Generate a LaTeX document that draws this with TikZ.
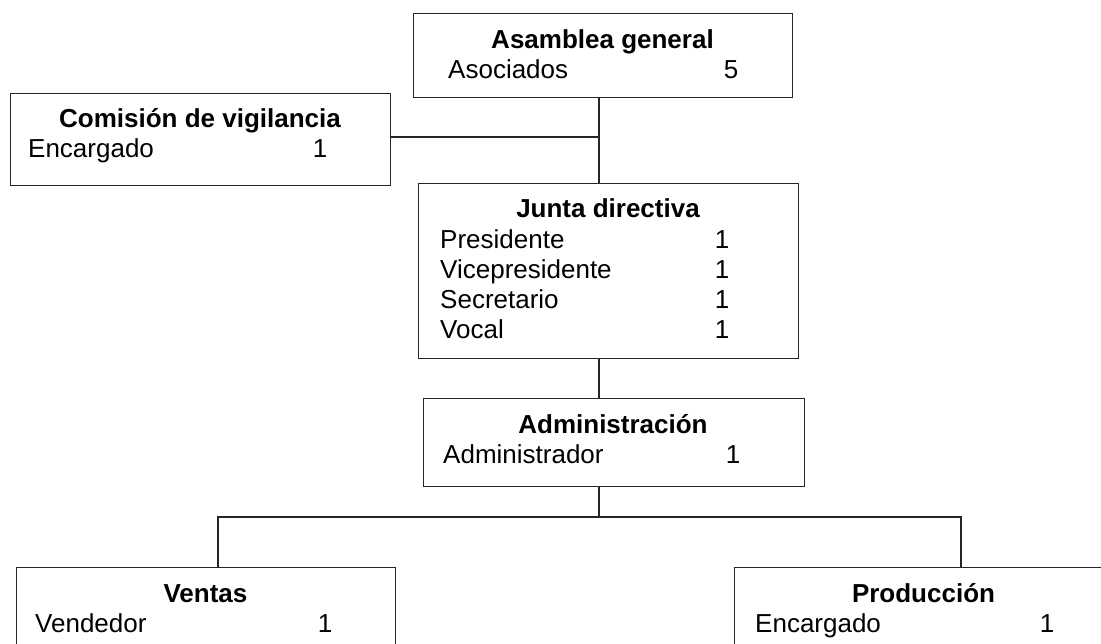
\documentclass[tikz,border=0pt]{standalone}
\usepackage{fontspec}
\setmainfont{Liberation Sans}
\begin{document}
\begin{tikzpicture}[x=1pt,y=-1pt,
  box/.style={draw=black!85, line width=1.4pt, inner sep=0pt, anchor=north west},
  ttl/.style={font=\fontsize{26}{30}\selectfont\bfseries, anchor=base, inner sep=0pt},
  itm/.style={font=\fontsize{26}{30}\selectfont, anchor=base west, inner sep=0pt},
  num/.style={font=\fontsize{26}{30}\selectfont, anchor=base, inner sep=0pt},
  conn/.style={draw=black!85, line width=1.4pt}]
\useasboundingbox (0,0) rectangle (1101,643);
\clip (0,0) rectangle (1101,643);
% boxes
\node[box, minimum width=379pt, minimum height=84pt] (asam) at (413,13) {};
\node[box, minimum width=380pt, minimum height=92pt] (comision) at (10,93) {};
\node[box, minimum width=380pt, minimum height=175pt] (junta) at (418,183) {};
\node[box, minimum width=381pt, minimum height=88pt] (admin) at (423,398) {};
\node[box, minimum width=379pt, minimum height=100pt] (ventas) at (16,567) {};
\node[box, minimum width=380pt, minimum height=100pt] (prod) at (734,567) {};
% texts
\node[ttl] (asamT) at (602.5,48) {Asamblea general};
\node[itm] (asamA) at (448,78) {Asociados};
\node[num] (asamN) at (731,78) {5};
\node[ttl] (comT) at (200,127) {Comisión de vigilancia};
\node[itm] (comA) at (28,157) {Encargado};
\node[num] (comN) at (320,157) {1};
\node[ttl] (junT) at (608,217) {Junta directiva};
\node[itm] (junA) at (440,248) {Presidente};
\node[num] (junAN) at (722,248) {1};
\node[itm] (junB) at (440,278) {Vicepresidente};
\node[num] (junBN) at (722,278) {1};
\node[itm] (junC) at (440,308) {Secretario};
\node[num] (junCN) at (722,308) {1};
\node[itm] (junD) at (440,338) {Vocal};
\node[num] (junDN) at (722,338) {1};
\node[ttl] (admT) at (613,433) {Administración};
\node[itm] (admA) at (443,463) {Administrador};
\node[num] (admN) at (733,463) {1};
\node[ttl] (venT) at (205.5,602) {Ventas};
\node[itm] (venA) at (35,632) {Vendedor};
\node[num] (venN) at (325,632) {1};
\node[ttl] (proT) at (923.5,602) {Producción};
\node[itm] (proA) at (755,632) {Encargado};
\node[num] (proN) at (1047,632) {1};
% connectors
\coordinate (trunk) at (599,0);
\coordinate (vigY) at (0,137);
\coordinate (busY) at (0,517);
\coordinate (vx) at (218,0);
\coordinate (px) at (961,0);
\draw[conn] (asam.south -| trunk) -- (junta.north -| trunk);
\draw[conn] (comision.east |- vigY) -- (vigY -| trunk);
\draw[conn] (junta.south -| trunk) -- (admin.north -| trunk);
\draw[conn] (admin.south -| trunk) -- (busY -| trunk);
\draw[conn] (ventas.north -| vx) -- (busY -| vx) -- (busY -| px) -- (prod.north -| px);
\end{tikzpicture}
\end{document}
